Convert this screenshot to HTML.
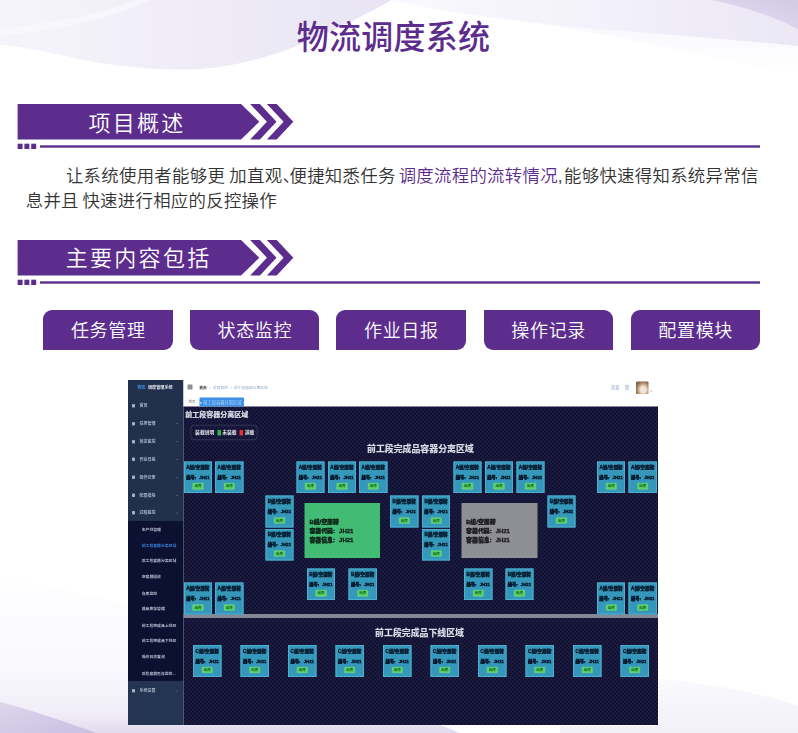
<!DOCTYPE html>
<html lang="zh-CN">
<head>
<meta charset="utf-8">
<title>物流调度系统</title>
<style>
  html,body{margin:0;padding:0;}
  body{width:798px;height:733px;overflow:hidden;background:#fff;position:relative;
       font-family:"Liberation Sans","Noto Sans CJK SC",sans-serif;}
  #bg{position:absolute;left:0;top:0;width:798px;height:733px;}
  h1{position:absolute;left:0;top:14.4px;width:798px;margin:0;text-align:center;
     font-size:32px;line-height:48px;font-weight:500;color:#5d2d8e;letter-spacing:0.25px;
     transform:translateX(-5.6px) scaleY(1.04);transform-origin:50% 50%;}
  .hdr{position:absolute;left:0;width:798px;height:55px;}
  .hdr svg{position:absolute;left:0;top:0;}
  .hdr .t{position:absolute;top:6.6px;height:35px;line-height:35px;color:#fff;font-size:22px;
          font-weight:350;letter-spacing:2.3px;white-space:nowrap;}
  p.desc{position:absolute;margin:0;left:26.3px;top:164.4px;width:760px;font-size:17.4px;line-height:24.5px;
         color:#333;font-weight:350;letter-spacing:.3px;white-space:nowrap;}
  p.desc .hl{color:#5d2d8e;}
  p.desc .sp{display:inline-block;width:4.2px;}
  p.desc .dn{margin-right:-10.6px;}
  .btn{position:absolute;top:309.5px;height:40.2px;width:129.5px;background:#5d2d8e;color:#fff;
       font-size:18px;line-height:43.6px;text-align:center;font-weight:350;letter-spacing:.65px;text-indent:.65px;}
  .btn.a{border-radius:9px 0 9px 0;}
  .btn.b{border-radius:0 9px 0 9px;}

  /* embedded system screenshot, drawn at 2x and scaled down */
  #shotwrap{position:absolute;left:128.4px;top:380px;width:530.2px;height:345px;overflow:hidden;filter:blur(.7px);}
  #shot{position:absolute;left:0;top:0;width:1060.4px;height:690px;transform:scale(.5);transform-origin:0 0;
        background:#fff;font-size:10px;color:#fff;overflow:hidden;}
  #shot div,#shot p,#shot i,#shot u,#shot b,#shot em{position:absolute;margin:0;font-style:normal;text-decoration:none;white-space:nowrap;}
  #shot .tex{}
  #shot .side,#shot .sub,#shot .sbot,#shot .main{
    background-image:repeating-linear-gradient(45deg,rgba(255,255,255,.032) 0 2.4px,rgba(255,255,255,0) 2.4px 5.66px),
                     repeating-linear-gradient(-45deg,rgba(255,255,255,.032) 0 2.4px,rgba(255,255,255,0) 2.4px 5.66px);}
  #shot .sub{background-image:none;}
  #shot .side,#shot .sbot{
    background-image:repeating-linear-gradient(45deg,rgba(255,255,255,.024) 0 2.4px,rgba(255,255,255,0) 2.4px 5.66px),
                     repeating-linear-gradient(-45deg,rgba(255,255,255,.024) 0 2.4px,rgba(255,255,255,0) 2.4px 5.66px);}
  #shot .side{left:0;top:0;width:110.6px;height:282px;background-color:#1d2c49;}
  #shot .sub{left:0;top:282px;width:110.6px;height:320px;background-color:#0c1131;}
  #shot .sbot{left:0;top:602px;width:110.6px;height:88px;background-color:#20314f;}
  #shot .topbar{left:110.6px;top:0;width:950px;height:53.4px;background:#fff;}
  #shot .main{left:110.6px;top:53.4px;width:950px;height:636.6px;background-color:#0e0f33;}
  #shot .logo{font-size:8.2px;line-height:12px;color:#e8ecf5;font-weight:700;letter-spacing:0;word-spacing:3px;}
  #shot .logo b{position:static;color:#3d8fe8;font-weight:700;}
  #shot .mi{left:8.2px;width:96px;height:16px;line-height:16px;font-size:8px;color:#a9b4c9;padding-left:14.8px;font-weight:700;margin-top:1.6px;}
  #shot .mi .ic{left:0;top:4.5px;width:6px;height:7px;background:#a3afc6;border-radius:1.5px;}
  #shot .mi .ar{left:88px;top:7px;width:4px;height:2px;background:#46536f;}
  #shot .si{left:27.4px;height:14px;line-height:14px;font-size:7.7px;color:#aeb8ce;font-weight:700;}
  #shot .si.on{color:#3b7dd6;}
  #shot .bc{font-size:7.5px;line-height:14px;color:#8fa9cc;padding-left:23.5px;width:300px;height:14px;word-spacing:3px;}
  #shot .bc span,#shot .bc em{position:static;}
  #shot .bc .k{color:#333;font-weight:700;}
  #shot .bc em{color:#b8c2d4;}
  #shot .bc .bi{left:0;top:1px;width:9.5px;height:10px;background:#8b8f98;border-radius:1px;}
  #shot .tab0{font-size:7px;line-height:16px;height:16px;width:24px;text-align:center;color:#777;background:#fafafb;}
  #shot .tab1{font-size:8.5px;line-height:18px;height:18px;width:89px;text-align:center;color:#b5d5f8;background:#3a8ee6;border-radius:2px 2px 0 0;}
  #shot .usr{font-size:9px;line-height:14px;color:#b9c4d8;font-weight:700;word-spacing:8px;}
  #shot .ava{width:24.8px;height:24.6px;border-radius:2px;background:radial-gradient(ellipse at 58% 66%,#f3e6d8 0 26%,#cfb094 44%,#8b6a4c 72%,#7a5c40 100%);}
  #shot .t1{font-size:14px;line-height:20px;font-weight:700;color:#dfe1ea;}
  #shot .t2{font-size:17.8px;line-height:24px;font-weight:700;color:#dcdee8;}
  #shot .lg{width:131.4px;height:28px;border:1.4px solid #50536f;border-radius:7px;font-size:9.6px;line-height:28px;color:#e6e8f0;margin-top:2px;}
  #shot .lg span,#shot .lg i{position:static;display:inline-block;vertical-align:middle;font-weight:700;}
  #shot .lg span:first-child{margin-left:8px;}
  #shot .lg i{width:7px;height:11px;margin:0 3px 0 6px;}
  #shot .lg .g{background:#2bb84d;}
  #shot .lg .r{background:#ef2b2b;}
  #shot .dv{width:950px;height:8px;background:#858799;}
  #shot .bx{width:52.4px;height:59.4px;border:2px solid #4eaece;background:#3598ba;color:#06162a;font-size:9.3px;font-weight:900;}
  #shot .bx p,#shot .big p{-webkit-text-stroke:.7px currentColor;filter:blur(.7px);}
  #shot .t1,#shot .t2{filter:blur(1px);-webkit-text-stroke:.4px currentColor;}
  #shot .bx p{left:0;width:52.4px;text-align:center;line-height:12px;height:12px;}
  #shot .bx p:nth-child(1){top:3.6px;}
  #shot .bx p:nth-child(2){top:23.4px;font-size:8.6px;word-spacing:4px;}
  #shot .bx u{left:15.6px;top:41.4px;width:19.4px;height:10.4px;border:1px solid #7be58a;background:#58cf62;color:#176b26;font-size:7px;line-height:10.4px;text-align:center;font-weight:700;border-radius:1px;}
  #shot .big{width:151.6px;height:110px;font-size:11.8px;font-weight:900;color:#0c2216;}
  #shot .big.gr{background:#42bb75;}
  #shot .big.gy{background:#8e8f95;width:151.4px;color:#1a1a1e;}
  #shot .big p{left:10px;line-height:16px;word-spacing:5px;}
  #shot .big.gy p{left:8.8px;}
  #shot .dot{width:2.4px;height:2.4px;border-radius:2px;background:#8d94a3;}
  #shot .big p:nth-child(1){top:28.5px;}
  #shot .big p:nth-child(2){top:47.3px;}
  #shot .big p:nth-child(3){top:66.1px;}
</style>
</head>
<body>
<svg id="bg" viewBox="0 0 798 733">
  <defs>
    <linearGradient id="g1" x1="0" y1="0" x2="1" y2="0">
      <stop offset="0" stop-color="#f6f4fb"/><stop offset=".45" stop-color="#f0edf8"/><stop offset="1" stop-color="#e8e4f3"/>
    </linearGradient>
    <linearGradient id="g2" x1="0" y1="0" x2="1" y2="0">
      <stop offset="0" stop-color="#faf9fd"/><stop offset=".5" stop-color="#f3f1fa"/><stop offset="1" stop-color="#ebe7f5"/>
    </linearGradient>
    <linearGradient id="g2b" x1="0" y1="0" x2="0" y2="1">
      <stop offset="0" stop-color="#f6f4fb"/><stop offset="1" stop-color="#ffffff"/>
    </linearGradient>
    <linearGradient id="g3" x1="0" y1="1" x2="1" y2="0">
      <stop offset="0" stop-color="#e4dff1"/><stop offset="1" stop-color="#d2cae6"/>
    </linearGradient>
    <linearGradient id="g4" gradientUnits="userSpaceOnUse" x1="0" y1="577" x2="0" y2="733">
      <stop offset="0" stop-color="#fefeff"/><stop offset=".6" stop-color="#f9f8fd"/><stop offset=".88" stop-color="#f0edf8"/><stop offset="1" stop-color="#e0dbee"/>
    </linearGradient>
    <linearGradient id="g6" x1="0" y1="0" x2="1" y2="1">
      <stop offset="0" stop-color="#dcd6ec"/><stop offset="1" stop-color="#c9c0e1"/>
    </linearGradient>
    <linearGradient id="g5" x1="0" y1="0" x2="0" y2="1">
      <stop offset="0" stop-color="#faf9fd"/><stop offset="1" stop-color="#f2f0f9"/>
    </linearGradient>
  </defs>
  <!-- top right soft fade + band -->
  <path d="M392 0H798V76C720 58 600 30 392 0Z" fill="url(#g2b)"/>
  <path d="M392 0H798V46C740 40 670 35 600 29C530 23 450 14 392 0Z" fill="url(#g2)"/>
  <path d="M712 0H798V29C775 17 745 7 712 0Z" fill="url(#g3)"/>
  <!-- top-left shapes -->
  <path d="M0 0H392C370 12 345 25 320 36C285 52 245 66 200 69C150 72 95 63 60 55C35 49 15 46 0 45Z" fill="url(#g1)"/>
  <path d="M0 28C50 24 100 14 135 0H150C115 18 55 32 0 35Z" fill="#f8f7fc" opacity=".8"/>
  <!-- bottom-left swoosh -->
  <path d="M0 577C50 585 100 597 140 610C250 648 380 700 460 733H0Z" fill="url(#g4)"/>
  <path d="M0 702C32 710 66 722 96 733H0Z" fill="url(#g6)"/>
  <!-- bottom-right faint -->
  <path d="M560 733V726H659V679C700 682 760 692 798 706V733Z" fill="url(#g5)"/>
</svg>

<h1>物流调度系统</h1>

<div class="hdr" style="top:99px">
  <svg width="798" height="55" viewBox="0 0 798 55">
    <g fill="#5d2d8e">
      <path d="M17.6 5H241L259.3 22.7L241 40.5H17.6Z"/>
      <path d="M250.2 5H259.9L276.5 22.7L259.9 40.5H250.2L266.9 22.7Z"/>
      <path d="M266.9 5H276.7L293.3 22.7L276.7 40.5H266.9L283.6 22.7Z"/>
      <rect x="17.6" y="44.7" width="5" height="5.3"/>
      <rect x="24.4" y="44.7" width="5" height="5.3"/>
      <rect x="31.2" y="44.7" width="5" height="5.3"/>
      <rect x="40" y="46.3" width="720" height="2.4"/>
    </g>
  </svg>
  <div class="t" style="left:88.4px">项目概述</div>
</div>

<p class="desc"><span style="padding-left:39.6px"></span>让系统使用者能够更<span class="sp"></span>加直观<span class="dn">、</span>便捷知悉任务<span class="sp" style="width:3px"></span><span class="hl">调度流程的流转情况</span>,<span class="sp" style="width:1px"></span>能够快速得知系统异常信<br><span style="margin-left:-.6px"></span>息并且<span class="sp" style="width:3.6px"></span>快速进行相应的反控操作</p>

<div class="hdr" style="top:234.5px">
  <svg width="798" height="55" viewBox="0 0 798 55">
    <g fill="#5d2d8e">
      <path d="M17.6 5H241L259.3 22.7L241 40.5H17.6Z"/>
      <path d="M250.2 5H259.9L276.5 22.7L259.9 40.5H250.2L266.9 22.7Z"/>
      <path d="M266.9 5H276.7L293.3 22.7L276.7 40.5H266.9L283.6 22.7Z"/>
      <rect x="17.6" y="44.7" width="5" height="5.3"/>
      <rect x="24.4" y="44.7" width="5" height="5.3"/>
      <rect x="31.2" y="44.7" width="5" height="5.3"/>
      <rect x="40" y="46.3" width="720" height="2.4"/>
    </g>
  </svg>
  <div class="t" style="left:65.7px;top:6px">主要内容包括</div>
</div>

<div class="btn a" style="left:43.2px">任务管理</div>
<div class="btn b" style="left:189.8px">状态监控</div>
<div class="btn a" style="left:336.3px">作业日报</div>
<div class="btn b" style="left:483.6px">操作记录</div>
<div class="btn a" style="left:630.6px">配置模块</div>

<div id="shotwrap">
<div id="shot">
<div class="side"></div><div class="sub"></div><div class="sbot"></div>
<div class="topbar"></div>
<div class="main"></div>
<div class="logo" style="left:18.4px;top:9.0px"><b>物流</b> 调度管理系统</div>
<div class="mi" style="top:41.8px"><i class="ic"></i>首页</div>
<div class="mi" style="top:77.8px"><i class="ic"></i>任务管理<i class="ar"></i></div>
<div class="mi" style="top:113.6px"><i class="ic"></i>状态监控<i class="ar"></i></div>
<div class="mi" style="top:149.4px"><i class="ic"></i>作业日报<i class="ar"></i></div>
<div class="mi" style="top:185.0px"><i class="ic"></i>操作记录<i class="ar"></i></div>
<div class="mi" style="top:221.0px"><i class="ic"></i>配置模块<i class="ar"></i></div>
<div class="mi" style="top:256.4px"><i class="ic"></i>过程监控<i class="ar"></i></div>
<div class="si" style="top:293.0px">生产线管理</div>
<div class="si on" style="top:323.6px">前工段容器分离区域</div>
<div class="si" style="top:355.0px">后工段容器分离区域</div>
<div class="si" style="top:386.6px">空容器回收</div>
<div class="si" style="top:419.6px">仓库监控</div>
<div class="si" style="top:451.2px">成品库存管理</div>
<div class="si" style="top:483.6px">前工段完成品上线区</div>
<div class="si" style="top:515.0px">前工段完成品下线区</div>
<div class="si" style="top:546.6px">操作日志查询</div>
<div class="si" style="top:579.6px">后段容器暂存监控...</div>
<div class="mi" style="top:612.0px"><i class="ic"></i>系统设置<i class="ar"></i></div>
<div class="bc" style="left:119.2px;top:8.0px"><i class="bi"></i><span class="k">首页</span> <em>|</em> <span>过程监控</span> <em>|</em> <span>前工段容器分离区域</span></div>
<div class="tab0" style="left:116.2px;top:36.0px">首页</div>
<div class="tab1" style="left:142.8px;top:35.2px">● 前工段容器分离区域 ×</div>
<div class="usr" style="left:965.2px;top:8.4px">消息 管</div>
<div class="ava" style="left:1016.4px;top:3.4px"></div>
<div class="dot" style="left:1045.2px;top:20.8px"></div>
<div class="t1" style="left:114.6px;top:59.0px">前工段容器分离区域</div>
<div class="lg" style="left:125.2px;top:88.0px"><span>装载说明</span><i class="g"></i><span>未装载</span><i class="r"></i><span>满载</span></div>
<div class="t2" style="left:478.0px;top:126.4px">前工段完成品容器分离区域</div>
<div class="t2" style="left:494.2px;top:493.2px">前工段完成品下线区域</div>
<div class="dv" style="left:110.6px;top:468.4px"></div>
<div class="bx" style="left:111.6px;top:162.8px"><p>A组/空周转</p><p>编号: JH21</p><u>出库</u></div>
<div class="bx" style="left:174.2px;top:162.8px"><p>A组/空周转</p><p>编号: JH21</p><u>出库</u></div>
<div class="bx" style="left:336.6px;top:162.8px"><p>A组/空周转</p><p>编号: JH21</p><u>出库</u></div>
<div class="bx" style="left:399.8px;top:162.8px"><p>A组/空周转</p><p>编号: JH21</p><u>出库</u></div>
<div class="bx" style="left:462.2px;top:162.8px"><p>A组/空周转</p><p>编号: JH21</p><u>出库</u></div>
<div class="bx" style="left:650.6px;top:162.8px"><p>A组/空周转</p><p>编号: JH21</p><u>出库</u></div>
<div class="bx" style="left:713.8px;top:162.8px"><p>A组/空周转</p><p>编号: JH21</p><u>出库</u></div>
<div class="bx" style="left:776.8px;top:162.8px"><p>A组/空周转</p><p>编号: JH21</p><u>出库</u></div>
<div class="bx" style="left:938.0px;top:162.8px"><p>A组/空周转</p><p>编号: JH21</p><u>出库</u></div>
<div class="bx" style="left:1001.2px;top:162.8px"><p>A组/空周转</p><p>编号: JH21</p><u>出库</u></div>
<div class="bx" style="left:274.6px;top:231.4px"><p>B组/空周转</p><p>编号: JH21</p><u>出库</u></div>
<div class="bx" style="left:524.2px;top:231.4px"><p>B组/空周转</p><p>编号: JH21</p><u>出库</u></div>
<div class="bx" style="left:588.0px;top:231.4px"><p>B组/空周转</p><p>编号: JH21</p><u>出库</u></div>
<div class="bx" style="left:838.8px;top:231.4px"><p>B组/空周转</p><p>编号: JH21</p><u>出库</u></div>
<div class="bx" style="left:274.6px;top:297.6px"><p>B组/空周转</p><p>编号: JH21</p><u>出库</u></div>
<div class="bx" style="left:588.0px;top:297.6px"><p>B组/空周转</p><p>编号: JH21</p><u>出库</u></div>
<div class="bx" style="left:357.6px;top:377.0px"><p>B组/空周转</p><p>编号: JH21</p><u>出库</u></div>
<div class="bx" style="left:441.2px;top:377.0px"><p>B组/空周转</p><p>编号: JH21</p><u>出库</u></div>
<div class="bx" style="left:672.2px;top:377.0px"><p>B组/空周转</p><p>编号: JH21</p><u>出库</u></div>
<div class="bx" style="left:754.6px;top:377.0px"><p>B组/空周转</p><p>编号: JH21</p><u>出库</u></div>
<div class="bx" style="left:111.6px;top:405.4px"><p>A组/空周转</p><p>编号: JH21</p><u>出库</u></div>
<div class="bx" style="left:174.2px;top:405.4px"><p>A组/空周转</p><p>编号: JH21</p><u>出库</u></div>
<div class="bx" style="left:938.0px;top:405.4px"><p>A组/空周转</p><p>编号: JH21</p><u>出库</u></div>
<div class="bx" style="left:1001.2px;top:405.4px"><p>A组/空周转</p><p>编号: JH21</p><u>出库</u></div>
<div class="bx" style="left:130.2px;top:530.4px"><p>C组/空周转</p><p>编号: JH21</p><u>出库</u></div>
<div class="bx" style="left:225.2px;top:530.4px"><p>C组/空周转</p><p>编号: JH21</p><u>出库</u></div>
<div class="bx" style="left:320.2px;top:530.4px"><p>C组/空周转</p><p>编号: JH21</p><u>出库</u></div>
<div class="bx" style="left:415.2px;top:530.4px"><p>C组/空周转</p><p>编号: JH21</p><u>出库</u></div>
<div class="bx" style="left:510.2px;top:530.4px"><p>C组/空周转</p><p>编号: JH21</p><u>出库</u></div>
<div class="bx" style="left:605.2px;top:530.4px"><p>C组/空周转</p><p>编号: JH21</p><u>出库</u></div>
<div class="bx" style="left:700.2px;top:530.4px"><p>C组/空周转</p><p>编号: JH21</p><u>出库</u></div>
<div class="bx" style="left:795.2px;top:530.4px"><p>C组/空周转</p><p>编号: JH21</p><u>出库</u></div>
<div class="bx" style="left:890.2px;top:530.4px"><p>C组/空周转</p><p>编号: JH21</p><u>出库</u></div>
<div class="bx" style="left:985.2px;top:530.4px"><p>C组/空周转</p><p>编号: JH21</p><u>出库</u></div>
<div class="big gr" style="left:352.8px;top:246.0px"><p>B组/空周转</p><p>容器代码: JH21</p><p>容器信息: JH21</p></div>
<div class="big gy" style="left:667.4px;top:246.0px"><p>B组/空周转</p><p>容器代码: JH21</p><p>容器信息: JH21</p></div>
</div>
</div>

</body>
</html>
